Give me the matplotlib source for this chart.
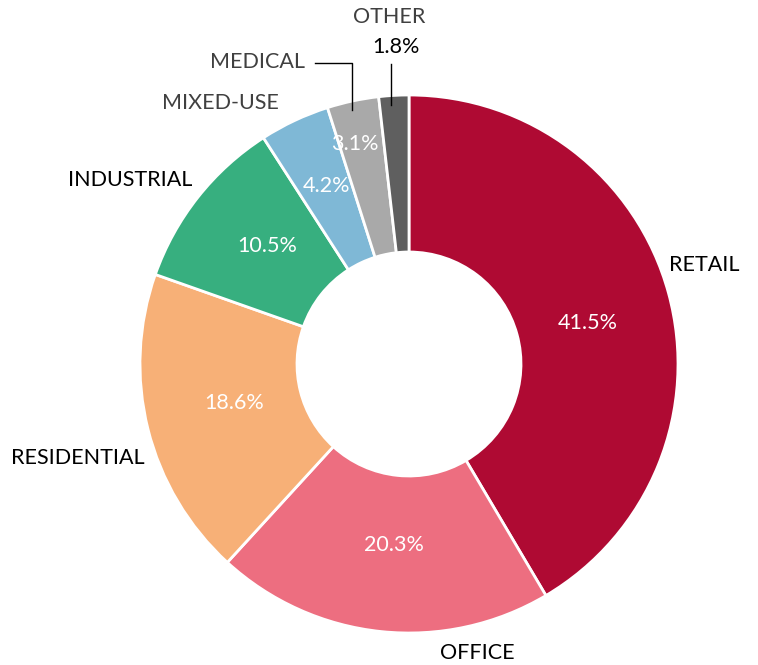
import numpy as np
import matplotlib.pyplot as plt

plt.rcParams['font.family'] = ['Lato', 'DejaVu Sans']

labels = ['RETAIL', 'OFFICE', 'RESIDENTIAL', 'INDUSTRIAL', 'MIXED-USE', 'MEDICAL', 'OTHER']
shares = [41.5, 20.3, 18.6, 10.5, 4.2, 3.1, 1.8]
colors = ['#AF0A33', '#ED6E80', '#F7B077', '#37AF7F', '#7FB8D6', '#A9A9A9', '#5F5F5F']

# layout in pixel units (y axis inverted)
cx, cy, R, hole = 409, 364, 269, 112
pct_dist = [0.69, 0.69, 0.69, 0.71, 0.72, 0.84, None]
pct_shift = [(0, 8), (4, -4), (5, -6), (8, 0), (0, -3), (-7, 1), None]
name_pos = [(704, 265), (477, 653), (78, 458), (130, 180), (220, 103), (257, 62), (389, 17)]
name_col = ['black', 'black', 'black', 'black', '#404040', '#404040', '#404040']

fig = plt.figure(figsize=(7.58, 6.65), dpi=100)
ax = fig.add_axes([0, 0, 1, 1])

wedges, _ = ax.pie(shares, colors=colors, center=(cx, cy), radius=R,
                   startangle=-90, counterclock=True,
                   wedgeprops=dict(width=R - hole, edgecolor='white', linewidth=2))
ax.set_xlim(0, 758)
ax.set_ylim(665, 0)
ax.set_aspect('equal')
ax.axis('off')

for w, s, d, sh, name, pos, nc in zip(wedges, shares, pct_dist, pct_shift, labels, name_pos, name_col):
    if d is not None:
        t = np.deg2rad((w.theta1 + w.theta2) / 2)
        ax.text(cx + d * R * np.cos(t) + sh[0], cy + d * R * np.sin(t) + sh[1], f'{s}%',
                color='white', fontsize=15.5, ha='center', va='center')
    ax.text(pos[0], pos[1], name, color=nc, fontsize=15.5, ha='center', va='center')

# outside value for OTHER and leader lines
ax.text(396, 47, f'{shares[-1]}%', color='black', fontsize=15.5, ha='center', va='center')
ax.plot([315, 352, 352], [63, 63, 110], color='black', lw=1)
ax.plot([391, 391], [64, 105], color='black', lw=1)

fig.savefig('out.png', dpi=100)
